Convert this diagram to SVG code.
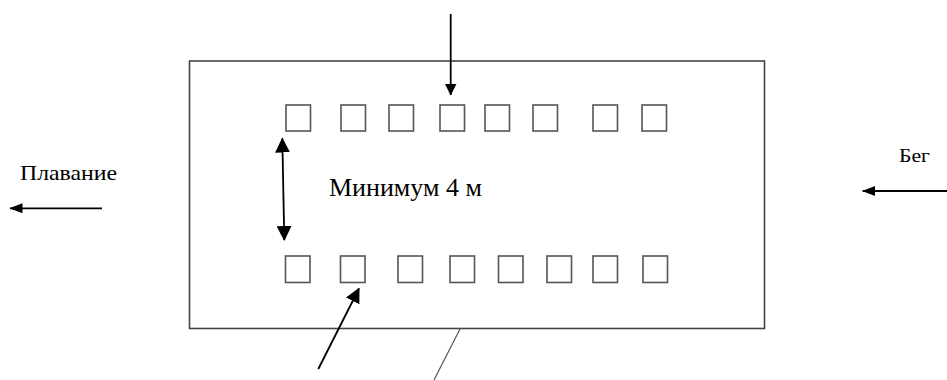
<svg xmlns="http://www.w3.org/2000/svg" width="947" height="380" viewBox="0 0 947 380">
<defs>
<style>
.frame{fill:none;stroke:#444;stroke-width:1.6}
.sq{fill:none;stroke:#555;stroke-width:1.6}
.ar{fill:none;stroke:#000;stroke-width:1.8}
.ln{fill:none;stroke:#555;stroke-width:1.2}
.t{font-family:'Liberation Serif','Times New Roman',serif;fill:#000}
</style>
<marker id="big" viewBox="0 0 15 15" refX="14" refY="7.5" markerWidth="15" markerHeight="15" markerUnits="userSpaceOnUse" orient="auto-start-reverse">
<path d="M0,0 L15,7.5 L0,15 z" fill="#000"/>
</marker>
<marker id="mid" viewBox="0 0 12 12" refX="11.5" refY="6" markerWidth="12" markerHeight="12" markerUnits="userSpaceOnUse" orient="auto-start-reverse">
<path d="M0,0 L12,6 L0,12 z" fill="#000"/>
</marker>
<marker id="side" viewBox="0 0 13 10" refX="12.5" refY="5" markerWidth="13" markerHeight="10" markerUnits="userSpaceOnUse" orient="auto-start-reverse">
<path d="M0,0 L13,5 L0,10 z" fill="#000"/>
</marker>
</defs>
<rect width="947" height="380" fill="#fff"/>
<g id="field">
<rect class="frame" x="189.5" y="61" width="575" height="267.5"/>
</g>
<g id="top-row">
<rect class="sq" x="286" y="105" width="24.5" height="26"/>
<rect class="sq" x="341" y="105" width="24.5" height="26"/>
<rect class="sq" x="389" y="105" width="24.5" height="26"/>
<rect class="sq" x="440" y="105" width="24.5" height="26"/>
<rect class="sq" x="485" y="105" width="24.5" height="26"/>
<rect class="sq" x="533" y="105" width="24.5" height="26"/>
<rect class="sq" x="593" y="105" width="24.5" height="26"/>
<rect class="sq" x="642" y="105" width="24.5" height="26"/>
</g>
<g id="bottom-row">
<rect class="sq" x="285.5" y="256" width="24.5" height="26.5"/>
<rect class="sq" x="340.5" y="256" width="24.5" height="26.5"/>
<rect class="sq" x="398" y="256" width="24.5" height="26.5"/>
<rect class="sq" x="450" y="256" width="24.5" height="26.5"/>
<rect class="sq" x="498.5" y="256" width="24.5" height="26.5"/>
<rect class="sq" x="547" y="256" width="24.5" height="26.5"/>
<rect class="sq" x="593" y="256" width="24.5" height="26.5"/>
<rect class="sq" x="643" y="256" width="24.5" height="26.5"/>
</g>
<g id="label-min">
<text class="t" x="329" y="196" font-size="26">Минимум 4 м</text>
</g>
<g id="label-swim">
<text class="t" x="20" y="180" font-size="21" textLength="97" lengthAdjust="spacingAndGlyphs">Плавание</text>
</g>
<g id="label-run">
<text class="t" x="899" y="162" font-size="19" textLength="31" lengthAdjust="spacingAndGlyphs">Бег</text>
</g>
<g id="connectors">
<line class="ar" x1="450.7" y1="14" x2="450.7" y2="95" marker-end="url(#mid)"/>
<line class="ar" x1="282.3" y1="138.5" x2="284.3" y2="240" marker-start="url(#big)" marker-end="url(#big)" stroke-width="2.2"/>
<line class="ar" x1="318.3" y1="369" x2="359" y2="288.5" marker-end="url(#big)" stroke-width="2.2"/>
<line class="ar" x1="102" y1="208.3" x2="10" y2="208.3" marker-end="url(#side)"/>
<line class="ar" x1="947" y1="191" x2="862.7" y2="191" marker-end="url(#side)"/>
<line class="ln" x1="460" y1="329" x2="434" y2="380"/>
</g>
</svg>
